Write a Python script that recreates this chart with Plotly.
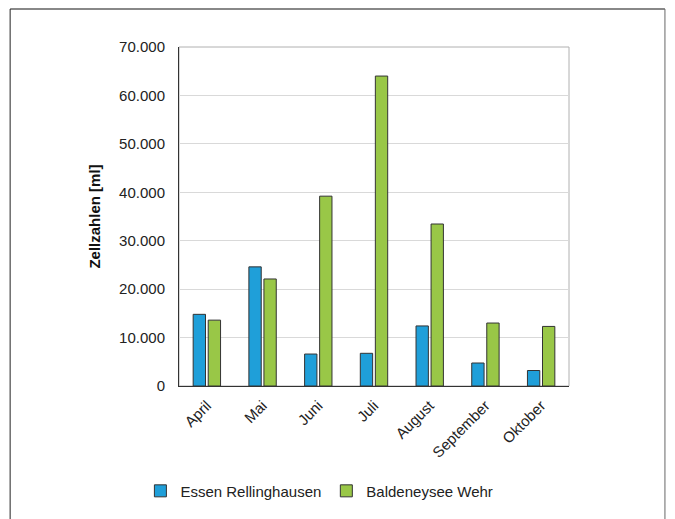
import plotly.graph_objects as go

months = ["April", "Mai", "Juni", "Juli", "August", "September", "Oktober"]
essen = [14800, 24600, 6600, 6750, 12400, 4750, 3200]
baldeney = [13600, 22100, 39200, 64000, 33450, 13000, 12300]

FONT = "Liberation Sans, Arial, sans-serif"

fig = go.Figure()
fig.add_trace(go.Bar(x=months, y=essen, name="Essen Rellinghausen",
                     marker=dict(color="#1f9fd9", line=dict(color="#333333", width=1))))
fig.add_trace(go.Bar(x=months, y=baldeney, name="Baldeneysee Wehr",
                     marker=dict(color="#99c747", line=dict(color="#333333", width=1))))

fig.update_yaxes(range=[0, 70000], dtick=10000, tickformat=",d",
                 showgrid=True, gridcolor="#d9d9d9", gridwidth=1,
                 showline=True, linecolor="#333333", linewidth=1,
                 ticks="", ticklabelstandoff=10, zeroline=False,
                 tickfont=dict(family=FONT, size=15, color="#222222"),
                 title=dict(text="<b>Zellzahlen [ml]</b>", standoff=14,
                            font=dict(family=FONT, size=15, color="#111111")))
fig.update_xaxes(showline=True, linecolor="#333333", linewidth=1,
                 tickangle=-45, ticks="", ticklabelstandoff=4,
                 tickfont=dict(family=FONT, size=15, color="#222222"))

# plot-area frame (lighter top/right) and outer chart frame
fig.add_shape(type="rect", xref="paper", yref="paper", x0=0, x1=1, y0=0, y1=1,
              line=dict(color="#b0b0b0", width=1), layer="below")
fig.add_shape(type="line", xref="paper", yref="paper", x0=-0.433, x1=1.246, y0=1.112, y1=1.112,
              line=dict(color="#888888", width=2))
fig.add_shape(type="line", xref="paper", yref="paper", x0=-0.433, x1=-0.433, y0=1.112, y1=-0.45,
              line=dict(color="#222222", width=1))
fig.add_shape(type="line", xref="paper", yref="paper", x0=1.246, x1=1.246, y0=1.112, y1=-0.45,
              line=dict(color="#666666", width=1))

# page adds ~8px body margin, so the figure is a bit smaller and shifted
fig.update_layout(
    width=667, height=511,
    margin=dict(l=171, r=106, t=39, b=133),
    paper_bgcolor="white", plot_bgcolor="white",
    barmode="group", bargap=0.46, bargroupgap=0.18,
    separators=",.",
    showlegend=True,
    legend=dict(orientation="h", x=0.36, xanchor="center", y=-0.31, yanchor="middle",
                font=dict(family=FONT, size=15, color="#222222"),
                itemwidth=30, traceorder="normal"),
)

fig.write_html("out.html")
